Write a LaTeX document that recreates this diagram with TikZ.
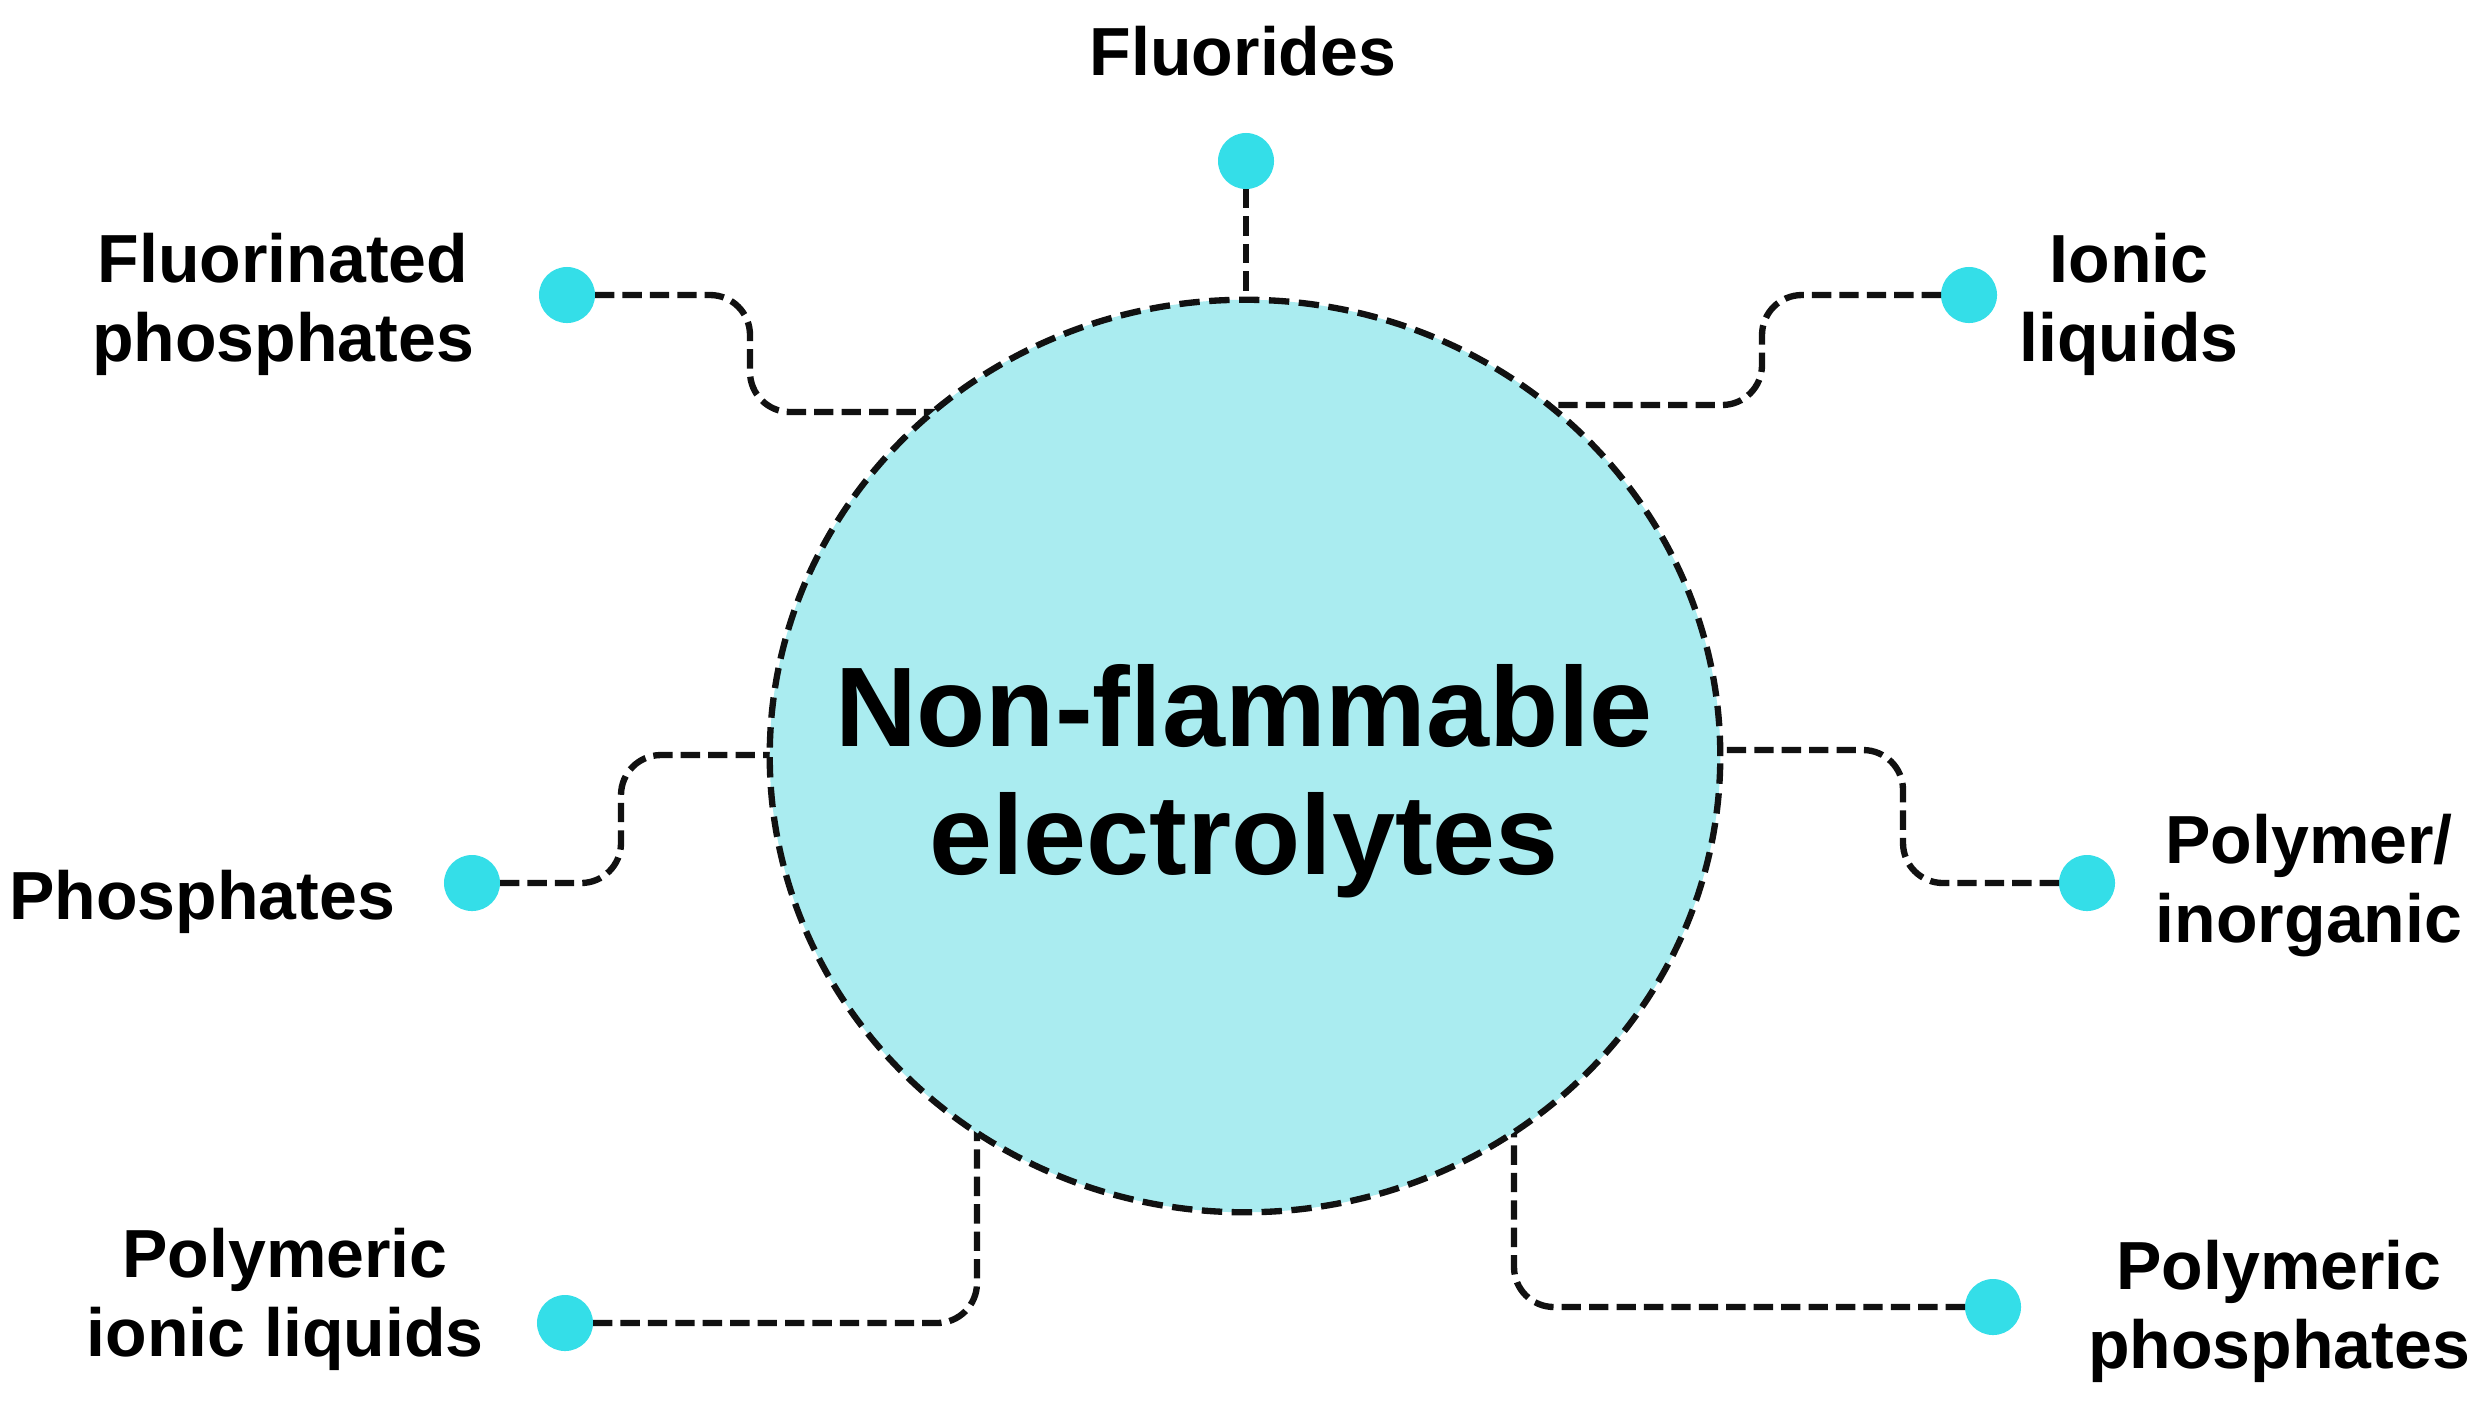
\documentclass[tikz,border=0pt]{standalone}
\usepackage{fontspec}
\setmainfont{Liberation Sans}
\usetikzlibrary{shapes.geometric}
\definecolor{dotcyan}{RGB}{52,222,232}
\definecolor{discfill}{RGB}{170,236,240}
\definecolor{inkline}{RGB}{17,17,17}
\tikzset{
  dotnode/.style={circle, fill=dotcyan, minimum size=0.56cm, inner sep=0pt, outer sep=0pt},
  lbl/.style={anchor=base, inner sep=0pt, font=\fontsize{19.35pt}{22.5pt}\selectfont\bfseries},
  ttl/.style={anchor=base, inner sep=0pt, font=\fontsize{32.2pt}{36.4pt}\selectfont\bfseries},
  conn/.style={draw=inkline, line width=1.8pt, dash pattern=on 5.5pt off 2.3pt, rounded corners=0.4cm},
  disc/.style={ellipse, fill=discfill, draw=inkline, line width=1.8pt, dash pattern=on 5.8pt off 2.7pt,
               minimum width=9.5cm, minimum height=9.12cm, inner sep=0pt, outer sep=0pt}
}
\begin{document}
\begin{tikzpicture}[x=0.01cm, y=-0.01cm]
\useasboundingbox (0,0) rectangle (2485,1405);
\fill[white] (0,0) rectangle (2485,1405);

% dots
\node[dotnode] (fl)  at (1246,161) {};
\node[dotnode] (fp)  at (567,295) {};
\node[dotnode] (il)  at (1969,295) {};
\node[dotnode] (ph)  at (472,883) {};
\node[dotnode] (pi)  at (2087,883) {};
\node[dotnode] (pil) at (565,1323) {};
\node[dotnode] (pp)  at (1993,1307) {};

% labels
\node[lbl] (tfl)  at (1243,75) {Fluorides};
\node[lbl] (tfp)  at (283,282) {\begin{tabular}[t]{@{}c@{}}Fluorinated\\phosphates\end{tabular}};
\node[lbl] (til)  at (2129,282) {\begin{tabular}[t]{@{}c@{}}Ionic\\liquids\end{tabular}};
\node[lbl] (tph)  at (202,919) {Phosphates};
\node[lbl] (tpi)  at (2309,863) {\begin{tabular}[t]{@{}c@{}}Polymer/\\inorganic\end{tabular}};
\node[lbl] (tpil) at (285,1277) {\begin{tabular}[t]{@{}c@{}}Polymeric\\ionic liquids\end{tabular}};
\node[lbl] (tpp)  at (2279,1289) {\begin{tabular}[t]{@{}c@{}}Polymeric\\phosphates\end{tabular}};

% connector ends (hidden under the disc)
\coordinate (e1) at (1246,340);
\coordinate (e2) at (960,412);
\coordinate (e3) at (1520,405);
\coordinate (e4) at (810,755);
\coordinate (e5) at (1690,750);
\coordinate (e6) at (977,1100);
\coordinate (e7) at (1514,1100);

% connectors
\draw[conn] (fl) -- (e1);
\draw[conn] (fp) -- (750,295) -- (750,412) -- (e2);
\draw[conn] (il) -- (1762,295) -- (1762,405) -- (e3);
\draw[conn] (ph) -- (621,883) -- (621,755) -- (e4);
\draw[conn] (pi) -- (1903,883) -- (1903,750) -- (e5);
\draw[conn] (pil) -- (977,1323) -- (e6);
\draw[conn] (pp) -- (1514,1307) -- (e7);

% central disc
\node[disc] (c) at (1245,756) {};
\node[ttl] (title) at (1244,746) {\begin{tabular}[t]{@{}c@{}}Non-flammable\\electrolytes\end{tabular}};
\end{tikzpicture}
\end{document}
